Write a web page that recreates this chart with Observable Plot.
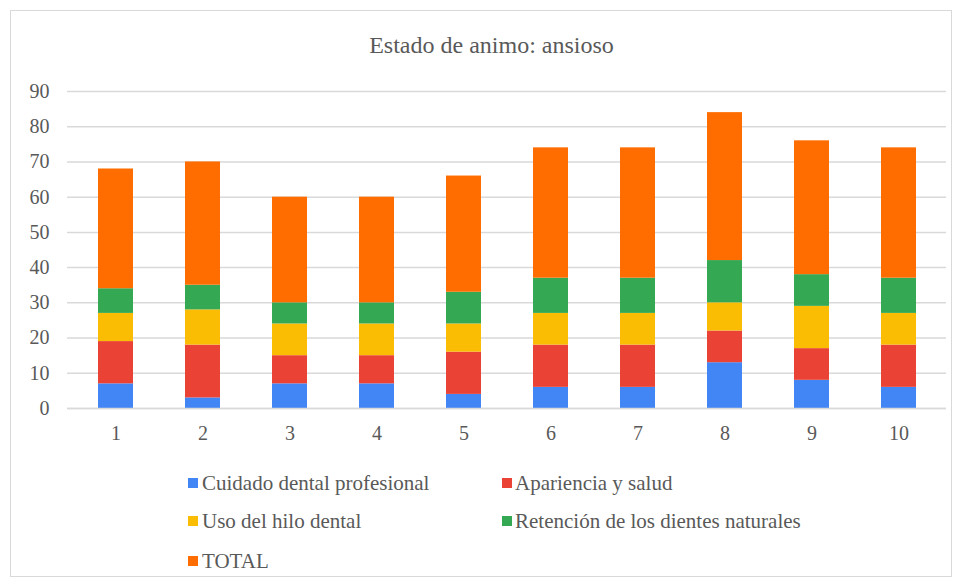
<!DOCTYPE html>
<html>
<head>
<meta charset="utf-8">
<script src="https://cdn.jsdelivr.net/npm/d3@7"></script>
<script src="https://cdn.jsdelivr.net/npm/@observablehq/plot@0.6"></script>
<style>
  html, body { margin: 0; padding: 0; background: #fff; }
  #wrap { position: relative; width: 963px; height: 588px; font-family: "Liberation Serif", "Times New Roman", "DejaVu Serif", serif; color: #595959; }
  #frame { position: absolute; left: 10px; top: 10px; width: 942px; height: 567px; border: 1px solid #d9d9d9; box-sizing: border-box; }
  #title { position: absolute; left: 0; width: 983px; top: 31px; text-align: center; font-size: 24px; line-height: 28px; }
  #chart { position: absolute; left: 0; top: 0; }
  #chart svg text { font-family: "Liberation Serif", "Times New Roman", serif; }
  .leg { position: absolute; font-size: 21px; white-space: nowrap; line-height: 24px; }
  .sw { position: absolute; width: 10px; height: 10px; }
</style>
</head>
<body>
<div id="wrap">
  <div id="frame"></div>
  <div id="chart"></div>
  <div id="title">Estado de animo: ansioso</div>
  <div id="legend"></div>
</div>
<script>
const categories = ["1","2","3","4","5","6","7","8","9","10"];
const seriesNames = ["Cuidado dental profesional","Apariencia y salud","Uso del hilo dental","Retención de los dientes naturales","TOTAL"];
const seriesColors = ["#4285F4","#EA4335","#FBBC04","#34A853","#FF6D01"];
const cuidado = [7,3,7,7,4,6,6,13,8,6];
const apariencia = [12,15,8,8,12,12,12,9,9,12];
const hilo = [8,10,9,9,8,9,9,8,12,9];
const retencion = [7,7,6,6,9,10,10,12,9,10];
const total = [34,35,30,30,33,37,37,42,38,37];
const yTicks = [0,10,20,30,40,50,60,70,80,90];

const seriesValues = [cuidado, apariencia, hilo, retencion, total];
const data = [];
categories.forEach((c, i) => {
  seriesNames.forEach((s, j) => data.push({cat: c, series: s, value: seriesValues[j][i]}));
});

const chart = Plot.plot({
  width: 963,
  height: 450,
  marginTop: 91,
  marginBottom: 42,
  marginLeft: 67,
  marginRight: 17,
  style: {fontFamily: "'Liberation Serif', 'Times New Roman', serif", fontSize: "20px", color: "#595959", background: "transparent"},
  x: {domain: categories, paddingInner: 0.6, paddingOuter: 0.3, label: null, tickSize: 0, tickPadding: 17},
  y: {domain: [0, 90], ticks: yTicks, label: null, tickSize: 0, tickPadding: 18},
  color: {domain: seriesNames, range: seriesColors},
  marks: [
    Plot.gridY(yTicks, {stroke: "#d9d9d9", strokeOpacity: 1, strokeWidth: 1.5}),
    Plot.barY(data, {x: "cat", y: "value", fill: "series", order: seriesNames}),
    Plot.ruleY([0], {stroke: "#d9d9d9", strokeWidth: 1.5})
  ]
});
document.getElementById("chart").appendChild(chart);

// legend
const legPos = [
  {sx: 188, tx: 202, y: 483},
  {sx: 502, tx: 515, y: 483},
  {sx: 188, tx: 202, y: 521},
  {sx: 502, tx: 515, y: 521},
  {sx: 188, tx: 202, y: 561}
];
const leg = document.getElementById("legend");
seriesNames.forEach((name, i) => {
  const p = legPos[i];
  const sw = document.createElement("div");
  sw.className = "sw";
  sw.style.left = p.sx + "px";
  sw.style.top = (p.y - 5) + "px";
  sw.style.background = seriesColors[i];
  leg.appendChild(sw);
  const t = document.createElement("div");
  t.className = "leg";
  t.style.left = p.tx + "px";
  t.style.top = (p.y - 12) + "px";
  t.textContent = name;
  leg.appendChild(t);
});
</script>
</body>
</html>
